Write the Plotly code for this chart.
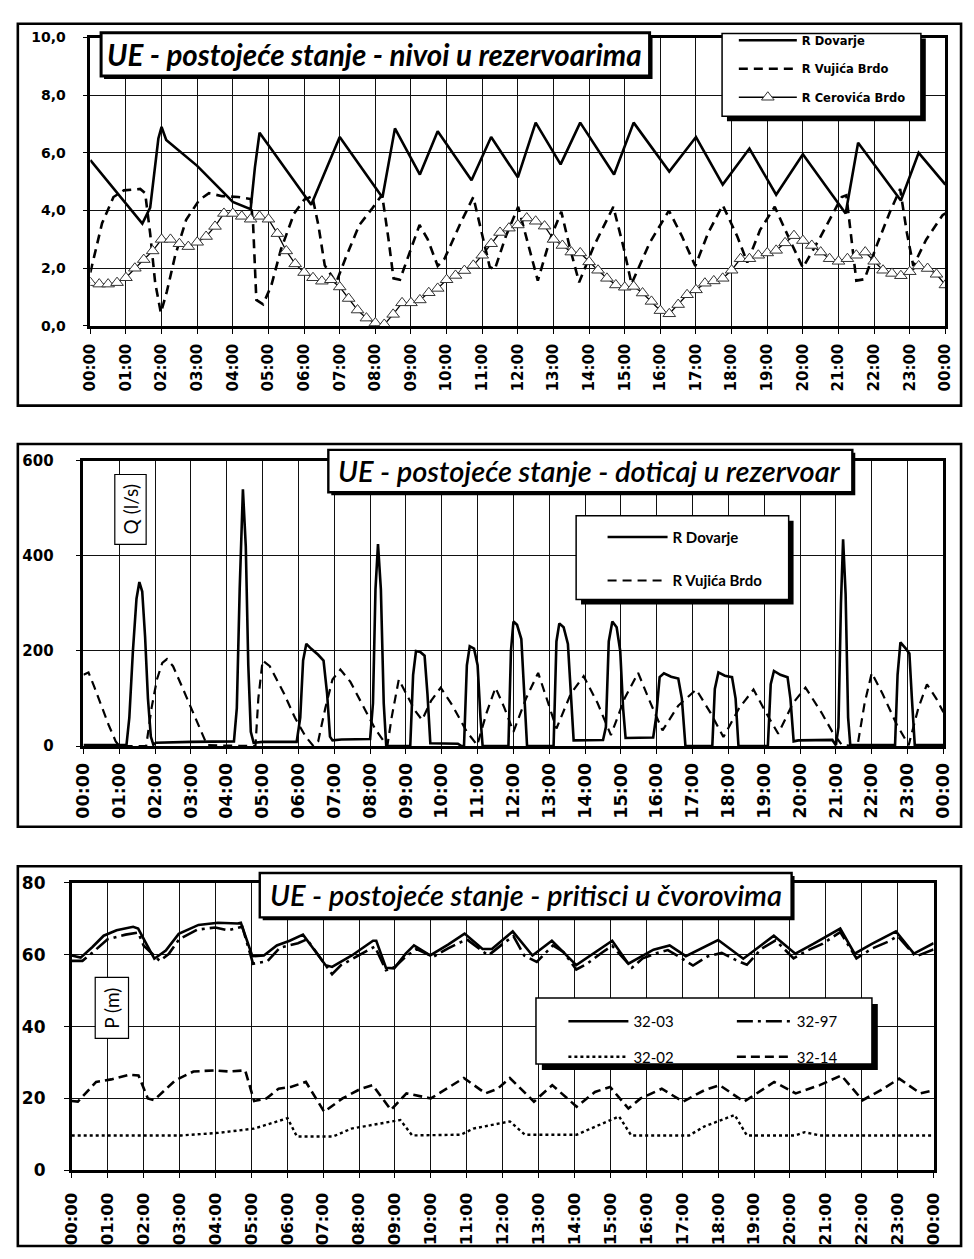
import plotly.graph_objects as go

W, H = 974, 1259

# ---------------- data ----------------
hour_ticks = list(range(25))
hour_labels = ["00:00", "01:00", "02:00", "03:00", "04:00", "05:00", "06:00", "07:00",
               "08:00", "09:00", "10:00", "11:00", "12:00", "13:00", "14:00", "15:00",
               "16:00", "17:00", "18:00", "19:00", "20:00", "21:00", "22:00", "23:00", "00:00"]

# Panel 1 - levels (m)
lvl_ticks = [0, 2, 4, 6, 8, 10]
lvl_labels = ["0,0", "2,0", "4,0", "6,0", "8,0", "10,0"]

lvl_dovarje = [(0, 5.75), (1.46, 3.55), (1.68, 4.1), (1.91, 6.5), (2.0, 6.9), (2.13, 6.45),
               (3.0, 5.55), (4.0, 4.3), (4.5, 4.05), (4.62, 5.5), (4.75, 6.7), (6.2, 4.2),
               (7.0, 6.55), (8.2, 4.45), (8.55, 6.85), (9.25, 5.25), (9.75, 6.75), (10.7, 5.05),
               (11.25, 6.55), (12.0, 5.15), (12.5, 7.05), (13.2, 5.6), (13.75, 7.05), (14.7, 5.25),
               (15.25, 7.05), (16.25, 5.35), (17.0, 6.55), (17.75, 4.9), (18.5, 6.15), (19.25, 4.55),
               (20.0, 5.95), (21.2, 3.9), (21.55, 6.35), (22.75, 4.35), (23.25, 6.0), (24.0, 4.9)]

lvl_vujica = [(0, 1.85), (0.33, 3.56), (0.65, 4.47), (0.94, 4.7), (1.4, 4.75), (1.54, 4.6),
              (1.68, 3.2), (1.82, 1.5), (1.98, 0.45), (2.15, 1.2), (2.38, 2.43), (2.69, 3.68),
              (3.06, 4.37), (3.33, 4.6), (3.7, 4.5), (4.15, 4.47), (4.5, 4.4), (4.57, 3.5),
              (4.66, 0.9), (4.85, 0.75), (5.08, 1.4), (5.35, 2.65), (5.72, 3.9), (6.0, 4.37),
              (6.23, 4.5), (6.4, 3.5), (6.58, 2.1), (6.9, 1.5), (7.18, 2.4), (7.55, 3.5),
              (7.91, 4.07), (8.19, 4.55), (8.37, 3.0), (8.51, 1.65), (8.69, 1.6), (8.97, 2.55),
              (9.24, 3.5), (9.47, 3.0), (9.75, 2.08), (9.93, 2.3), (10.39, 3.56), (10.75, 4.47),
              (10.98, 3.3), (11.21, 2.05), (11.35, 1.95), (11.66, 3.1), (12.01, 4.13), (12.21, 3.22),
              (12.56, 1.57), (12.9, 2.99), (13.22, 3.96), (13.45, 2.76), (13.72, 1.51), (14.13, 2.76),
              (14.68, 4.13), (14.96, 2.76), (15.19, 1.46), (15.7, 2.88), (16.24, 4.0), (16.61, 3.1),
              (16.98, 2.08), (17.34, 3.22), (17.75, 4.19), (18.16, 3.1), (18.44, 2.2), (18.8, 3.33),
              (19.21, 4.13), (19.63, 2.99), (20.0, 2.02), (20.45, 2.99), (21.09, 4.47), (21.22, 4.53),
              (21.36, 2.99), (21.5, 1.57), (21.73, 1.62), (22.1, 2.88), (22.46, 4.0), (22.73, 4.75),
              (22.92, 3.22), (23.1, 2.08), (23.46, 2.99), (23.92, 3.84), (24.0, 3.9)]

# Cerovića Brdo, one reading every 15 minutes
cer_times = [i * 0.25 for i in range(97)]
lvl_cerovica = [1.5, 1.45, 1.45, 1.5, 1.67, 2.0, 2.3, 2.6, 3.0, 3.0, 2.85, 2.75, 2.9, 3.1, 3.45, 3.9,
                3.9, 3.8, 3.7, 3.8, 3.7, 3.2, 2.6, 2.15, 1.85, 1.67, 1.55, 1.6, 1.35, 0.95, 0.55, 0.27,
                0.1, 0.05, 0.4, 0.8, 0.8, 0.9, 1.15, 1.3, 1.6, 1.75, 1.92, 2.1, 2.45, 2.85,
                3.24, 3.39, 3.5, 3.74, 3.63, 3.46, 3.0, 2.79, 2.56, 2.53, 2.22, 1.93, 1.65, 1.42, 1.34,
                1.37, 1.14, 0.85, 0.53, 0.42, 0.74, 1.08, 1.25, 1.48, 1.56, 1.65, 1.93, 2.33, 2.33, 2.45,
                2.53, 2.62, 2.88, 3.13, 2.96, 2.79, 2.56, 2.33, 2.24, 2.33, 2.45, 2.56, 2.24, 1.93, 1.82,
                1.74, 1.88, 2.08, 1.99, 1.79, 1.42]

# Panel 2 - inflow (l/s)
q_ticks = [0, 200, 400, 600]
q_dovarje = [(0, 2), (1.2, 2), (1.28, 60), (1.38, 200), (1.48, 310), (1.56, 345), (1.64, 325),
             (1.72, 230), (1.8, 100), (1.88, 20), (1.95, 3), (2.02, 7), (3.0, 9), (4.2, 10),
             (4.28, 80), (4.36, 330), (4.45, 540), (4.53, 420), (4.6, 170), (4.67, 30), (4.75, 7),
             (5.0, 9), (5.95, 9), (6.05, 60), (6.13, 180), (6.22, 215), (6.35, 205), (6.55, 192),
             (6.7, 180), (6.8, 110), (6.88, 20), (6.95, 12), (7.2, 14), (8.0, 15), (8.08, 90),
             (8.15, 330), (8.22, 425), (8.3, 330), (8.38, 90), (8.45, 0), (9.12, 0), (9.2, 150),
             (9.28, 200), (9.4, 198), (9.52, 190), (9.6, 110), (9.68, 6), (10.45, 5), (10.55, 0),
             (10.62, 0), (10.7, 170), (10.78, 210), (10.9, 205), (11.0, 170), (11.08, 60),
             (11.14, 0), (11.86, 0), (11.93, 200), (12.0, 262), (12.1, 255), (12.22, 225),
             (12.3, 120), (12.38, 0), (13.12, 0), (13.2, 220), (13.28, 258), (13.4, 250),
             (13.52, 215), (13.6, 100), (13.68, 12), (14.5, 13), (14.58, 40), (14.66, 220),
             (14.76, 262), (14.88, 250), (14.98, 200), (15.06, 80), (15.13, 17), (15.9, 18),
             (15.98, 60), (16.08, 145), (16.2, 153), (16.4, 146), (16.6, 142), (16.7, 100),
             (16.8, 0), (17.55, 0), (17.62, 120), (17.72, 155), (17.9, 148), (18.1, 145),
             (18.2, 100), (18.28, 0), (19.1, 0), (19.18, 130), (19.27, 158), (19.45, 150),
             (19.65, 145), (19.73, 100), (19.82, 10), (19.95, 12), (20.9, 13), (21.0, 2),
             (21.07, 40), (21.14, 300), (21.2, 435), (21.27, 320), (21.34, 60), (21.4, 2),
             (22.65, 2), (22.72, 150), (22.8, 218), (22.95, 205), (23.05, 195), (23.12, 100),
             (23.2, 2), (24.0, 2)]

q_vujica = [(0, 150), (0.14, 155), (0.3, 125), (0.5, 85), (0.7, 45), (0.9, 10), (1.0, 0), (1.75, 0),
            (1.9, 80), (2.05, 140), (2.2, 175), (2.33, 183), (2.5, 168), (2.75, 125), (3.0, 80),
            (3.25, 35), (3.45, 2), (4.8, 0), (4.88, 100), (5.0, 180), (5.2, 168), (5.6, 110),
            (5.9, 60), (6.2, 20), (6.42, 0), (6.55, 10), (6.75, 80), (6.95, 140), (7.17, 161),
            (7.45, 135), (7.8, 85), (8.15, 35), (8.48, 0), (8.6, 60), (8.8, 140), (9.0, 110),
            (9.25, 75), (9.45, 55), (9.7, 95), (9.97, 123), (10.3, 85), (10.7, 30), (10.99, 2),
            (11.25, 70), (11.5, 123), (11.75, 80), (12.0, 30), (12.35, 100), (12.69, 154),
            (12.95, 95), (13.2, 37), (13.6, 110), (13.96, 147), (14.35, 90), (14.72, 23),
            (15.1, 100), (15.48, 154), (15.8, 95), (16.16, 33), (16.6, 85), (17.1, 119),
            (17.5, 70), (17.86, 19), (18.3, 80), (18.7, 119), (19.05, 70), (19.39, 26),
            (19.8, 90), (20.15, 123), (20.6, 70), (20.9, 30), (21.17, 2), (21.6, 0), (21.8, 90),
            (22.0, 154), (22.3, 110), (22.7, 45), (23.03, 2), (23.3, 80), (23.54, 130),
            (23.8, 100), (24.0, 71)]

# Panel 3 - pressures (m)
p_ticks = [0, 20, 40, 60, 80]
p_3203 = [(0, 59.8), (0.25, 59.2), (0.57, 62.1), (0.89, 65.3), (1.25, 66.8), (1.71, 67.8),
          (1.85, 67.3), (2.3, 58.9), (2.62, 61.2), (2.98, 65.8), (3.53, 68.3), (4.07, 68.9),
          (4.62, 68.7), (4.71, 68.9), (5.03, 59.6), (5.35, 59.8), (5.71, 62.6), (6.07, 63.9),
          (6.44, 65.6), (7.07, 57.1), (7.25, 56.6), (7.8, 59.8), (8.39, 63.9), (8.48, 63.9),
          (8.75, 56.4), (8.98, 56.2), (9.3, 60.3), (9.53, 62.6), (9.98, 59.8), (10.48, 62.8),
          (10.94, 65.9), (11.44, 61.6), (11.7, 61.6), (12.28, 66.5), (12.83, 59.8), (13.37, 63.9),
          (14.05, 57.1), (15.05, 63.9), (15.5, 57.5), (16.2, 61.4), (16.65, 62.6), (17.1, 59.6),
          (18.0, 64.1), (18.7, 58.9), (19.55, 65.3), (20.15, 60.3), (20.65, 63.0), (21.4, 67.3),
          (21.8, 60.3), (22.28, 63.0), (22.95, 66.5), (23.45, 60.3), (24.0, 63.2)]

p_3297 = [(0, 58.3), (0.3, 58.3), (0.6, 60.8), (1.0, 64.3), (1.5, 65.6), (1.85, 66.2), (2.0, 62.6),
          (2.45, 58.3), (2.7, 60.2), (3.0, 64.4), (3.5, 67.0), (4.0, 67.6), (4.35, 66.8), (4.75, 67.8),
          (5.05, 57.5), (5.45, 58.2), (5.8, 62.0), (6.3, 63.2), (6.55, 64.3), (7.25, 54.6),
          (7.5, 57.1), (8.07, 60.3), (8.44, 62.3), (8.75, 55.7), (9.0, 56.6), (9.3, 59.5),
          (9.6, 61.6), (10.07, 59.4), (10.48, 61.8), (11.0, 64.3), (11.6, 59.8), (12.0, 63.0),
          (12.3, 65.2), (12.6, 59.8), (12.95, 58.0), (13.4, 62.6), (13.7, 60.7), (14.05, 55.9),
          (14.35, 57.5), (14.75, 60.5), (15.05, 62.5), (15.6, 56.4), (15.9, 59.0), (16.3, 60.5),
          (16.6, 61.3), (17.0, 58.9), (17.3, 57.0), (17.7, 59.5), (18.1, 60.5), (18.5, 58.5),
          (18.8, 57.2), (19.2, 61.6), (19.6, 64.0), (20.1, 59.0), (20.45, 61.0), (20.9, 63.0),
          (21.4, 66.3), (21.85, 59.0), (22.3, 61.8), (22.75, 63.7), (23.0, 65.2), (23.5, 59.5),
          (24.0, 61.5)]

p_3202 = [(0, 9.7), (3.05, 9.7), (4.07, 10.4), (5.08, 11.6), (6.01, 14.5), (6.27, 9.4), (7.28, 9.4),
          (7.79, 11.6), (9.15, 14.0), (9.48, 9.7), (10.84, 9.9), (11.18, 11.6), (12.2, 13.6),
          (12.62, 9.9), (14.06, 9.9), (14.57, 12.2), (15.24, 15.0), (15.58, 9.7), (17.19, 9.7),
          (17.62, 12.2), (18.46, 15.4), (18.8, 9.7), (20.16, 9.7), (20.41, 10.6), (20.83, 9.7),
          (24.0, 9.7)]

p_3214 = [(0, 19.3), (0.17, 19.1), (0.68, 24.6), (1.1, 25.3), (1.61, 26.6), (1.86, 26.4), (2.12, 20.0),
          (2.29, 19.5), (2.88, 25.0), (3.39, 27.5), (3.98, 27.8), (4.4, 27.5), (4.83, 27.8),
          (5.08, 19.3), (5.42, 20.0), (5.76, 22.7), (6.1, 23.2), (6.52, 24.6), (7.03, 16.3),
          (7.54, 20.0), (8.05, 22.7), (8.38, 23.7), (8.89, 16.8), (9.32, 21.4), (10.0, 20.0),
          (10.5, 23.2), (10.92, 25.7), (11.52, 21.4), (11.86, 22.7), (12.2, 25.7), (12.87, 19.1),
          (13.38, 23.7), (14.06, 17.7), (14.57, 21.8), (14.99, 23.2), (15.5, 17.2), (15.84, 20.0),
          (16.43, 22.7), (17.02, 19.1), (17.62, 22.3), (18.04, 23.7), (18.72, 19.1), (19.14, 21.8),
          (19.56, 24.6), (20.16, 21.4), (20.83, 23.7), (21.43, 26.4), (22.02, 19.5), (22.53, 22.3),
          (23.04, 25.5), (23.63, 21.4), (24.0, 22.3)]


def split(pairs):
    xs, ys = zip(*pairs)
    return list(xs), list(ys)


def px(x):
    return x / W


def py(y):
    return 1 - y / H


fig = go.Figure()

# ---------- panel 1 traces ----------
x, y = split(lvl_dovarje)
fig.add_trace(go.Scatter(x=x, y=y, mode="lines", name="R Dovarje", line=dict(color="black", width=2.6),
                         xaxis="x", yaxis="y", legend="legend", legendgroup="a1"))
x, y = split(lvl_vujica)
fig.add_trace(go.Scatter(x=x, y=y, mode="lines", name="R Vujića Brdo",
                         line=dict(color="black", width=2.6, dash="9px,6px"),
                         xaxis="x", yaxis="y", legend="legend", legendgroup="a2"))
fig.add_trace(go.Scatter(x=cer_times, y=lvl_cerovica, mode="lines+markers", name="R Cerovića Brdo",
                         line=dict(color="black", width=1.3),
                         marker=dict(symbol="triangle-up", size=11, color="white",
                                     line=dict(color="#333", width=1)),
                         xaxis="x", yaxis="y", legend="legend", legendgroup="a3"))

# ---------- panel 2 traces ----------
x, y = split(q_dovarje)
fig.add_trace(go.Scatter(x=x, y=y, mode="lines", name="R Dovarje", line=dict(color="black", width=2.6),
                         xaxis="x2", yaxis="y2", legend="legend2", legendgroup="b1"))
x, y = split(q_vujica)
fig.add_trace(go.Scatter(x=x, y=y, mode="lines", name="R Vujića Brdo",
                         line=dict(color="black", width=2.2, dash="9px,6px"),
                         xaxis="x2", yaxis="y2", legend="legend2", legendgroup="b2"))

# ---------- panel 3 traces ----------
x, y = split(p_3203)
fig.add_trace(go.Scatter(x=x, y=y, mode="lines", name="32-03", line=dict(color="black", width=2.6),
                         xaxis="x3", yaxis="y3", legend="legend3", legendgroup="c1"))
x, y = split(p_3202)
fig.add_trace(go.Scatter(x=x, y=y, mode="lines", name="32-02",
                         line=dict(color="black", width=2.4, dash="3px,3px"),
                         xaxis="x3", yaxis="y3", legend="legend3", legendgroup="c2"))
x, y = split(p_3297)
fig.add_trace(go.Scatter(x=x, y=y, mode="lines", name="32-97",
                         line=dict(color="black", width=2.6, dash="16px,5px,3px,5px"),
                         xaxis="x3", yaxis="y3", legend="legend4", legendgroup="d1"))
x, y = split(p_3214)
fig.add_trace(go.Scatter(x=x, y=y, mode="lines", name="32-14",
                         line=dict(color="black", width=2.6, dash="9px,5px"),
                         xaxis="x3", yaxis="y3", legend="legend4", legendgroup="d2"))

# ---------- axes ----------
grid = dict(showgrid=True, gridcolor="#111111", gridwidth=1.4, zeroline=False,
            showline=True, linecolor="black", linewidth=2.6, mirror=True,
            ticks="outside", ticklen=5, tickcolor="black", tickwidth=1)


def xaxis_cfg(dom, anchor, fsize, standoff):
    d = dict(grid)
    d.update(domain=dom, anchor=anchor, range=[0, 24], tickmode="array", tickvals=hour_ticks,
             ticktext=hour_labels, tickangle=-90, ticklabelstandoff=standoff,
             tickfont=dict(family="DejaVu Sans", size=fsize, color="black", weight="bold"))
    return d


def yaxis_cfg(dom, anchor, rng, tv, tt, fsize, standoff):
    d = dict(grid)
    d.update(domain=dom, anchor=anchor, range=rng, tickmode="array", tickvals=tv, ticktext=tt,
             ticklabelstandoff=standoff,
             tickfont=dict(family="DejaVu Sans", size=fsize, color="black", weight="bold"))
    return d


fig.update_layout(
    xaxis=xaxis_cfg([px(82), px(955)], "y", 15, 4),
    yaxis=yaxis_cfg([py(321), py(28)], "x", [0, 10], lvl_ticks, lvl_labels, 14, 14),
    xaxis2=xaxis_cfg([px(75), px(953)], "y2", 17.5, 2),
    yaxis2=yaxis_cfg([py(748), py(458)], "x2", [0, 600], q_ticks, [str(v) for v in q_ticks], 15, 19),
    xaxis3=xaxis_cfg([px(63), px(943)], "y3", 16.5, 8),
    yaxis3=yaxis_cfg([py(1179), py(887)], "x3", [0, 80], p_ticks, [str(v) for v in p_ticks], 17, 15),
)

# ---------- decorations: frames, boxes, shadows ----------
shapes = []


def rect(x0, y0, x1, y1, fill=None, lw=1.5, layer="above"):
    shapes.append(dict(type="rect", xref="paper", yref="paper",
                       x0=px(x0), x1=px(x1), y0=py(y1), y1=py(y0),
                       line=dict(color="black", width=lw),
                       fillcolor=fill if fill else "rgba(0,0,0,0)", layer=layer))


# outer frames
rect(8, 14, 971, 402, lw=2.6, layer="below")
rect(8, 441, 971, 830, lw=2.6, layer="below")
rect(8, 870, 971, 1256, lw=2.6, layer="below")

# title boxes (shadow + box)
rect(96, 26, 656, 70, fill="black", lw=0)
rect(93, 23, 653, 67, fill="white", lw=3)
rect(328, 450, 863, 493, fill="black", lw=0)
rect(325, 447, 860, 490, fill="white", lw=2.4)
rect(258, 880, 801, 925, fill="black", lw=0)
rect(255, 877, 798, 922, fill="white", lw=2.4)

# legend boxes (shadow + box)
rect(732, 29, 935, 113, fill="black", lw=0)
rect(727, 24, 930, 108, fill="white", lw=1.5)
rect(583, 519, 800, 604, fill="black", lw=0)
rect(578, 514, 795, 599, fill="white", lw=1.5)
rect(543, 1010, 886, 1077, fill="black", lw=0)
rect(537, 1004, 880, 1071, fill="white", lw=1.5)

# axis-unit boxes
rect(107, 472, 139, 543, fill="white", lw=1.2)
rect(87, 983, 121, 1045, fill="white", lw=1.2)

annotations = [
    dict(text="UE - postojeće stanje - nivoi u rezervoarima", x=px(372), y=py(45),
         font=dict(family="Lato", size=29.5, color="black", style="italic", weight="bold")),
    dict(text="UE - postojeće stanje - doticaj u rezervoar", x=px(592), y=py(468),
         font=dict(family="Lato", size=29, color="black", style="italic", weight=600)),
    dict(text="UE - postojeće stanje - pritisci u čvorovima", x=px(527), y=py(899),
         font=dict(family="Lato", size=29, color="black", style="italic", weight=600)),
    dict(text="Q (l/s)", x=px(123), y=py(507), textangle=-90,
         font=dict(family="Lato", size=19, color="black")),
    dict(text="P (m)", x=px(104), y=py(1014), textangle=-90,
         font=dict(family="Lato", size=19, color="black")),
]
for a in annotations:
    a.update(xref="paper", yref="paper", showarrow=False, xanchor="center", yanchor="middle")

legend_common = dict(xanchor="left", yanchor="top", bgcolor="rgba(0,0,0,0)", borderwidth=0,
                     orientation="v", itemclick=False, itemdoubleclick=False)

fig.update_layout(
    width=W, height=H, autosize=False,
    margin=dict(l=0, r=0, t=0, b=0, pad=0),
    paper_bgcolor="white", plot_bgcolor="white",
    shapes=shapes, annotations=annotations,
    showlegend=True,
    legend=dict(legend_common, x=px(739), y=py(16), tracegroupgap=9.5, itemwidth=58,
                font=dict(family="DejaVu Sans", size=11.5, color="black", weight="bold")),
    legend2=dict(legend_common, x=px(605), y=py(519), tracegroupgap=21, itemwidth=60,
                 font=dict(family="Lato", size=15, color="black", weight="bold")),
    legend3=dict(legend_common, x=px(565), y=py(1011), tracegroupgap=13, itemwidth=60,
                 font=dict(family="Lato", size=15, color="black")),
    legend4=dict(legend_common, x=px(737), y=py(1011), tracegroupgap=13, itemwidth=55,
                 font=dict(family="Lato", size=15, color="black")),
)

fig.write_html("out.html")
